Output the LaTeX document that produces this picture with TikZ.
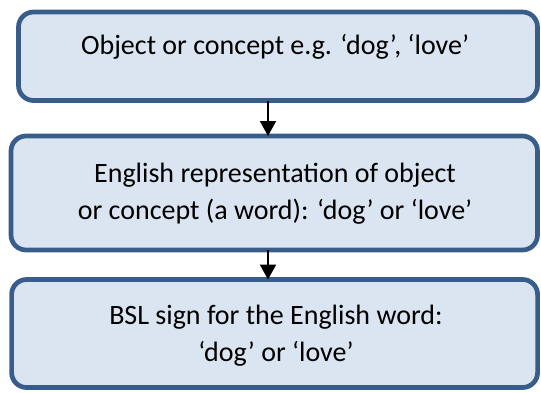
\documentclass[tikz,border=0pt]{standalone}
\usepackage{fontspec}
\setmainfont{Carlito}
\usetikzlibrary{arrows.meta}
\definecolor{boxline}{HTML}{385D8A}
\definecolor{boxfill}{HTML}{DBE5F1}
\begin{document}
\begin{tikzpicture}[x=1pt,y=-1pt,
  box/.style={draw=boxline, fill=boxfill, line width=4.7pt, rounded corners=15pt,
              inner sep=0pt, outer sep=0pt},
  label/.style={anchor=base, inner sep=0pt, font=\fontsize{28}{34}\selectfont},
  arr/.style={line width=2pt, -{Triangle[width=16pt,length=15pt]}}]
  \useasboundingbox (0,0) rectangle (541,392);
  % three stacked boxes
  \node[box, minimum width=519pt, minimum height=88.5pt] (b1) at (278,56.25) {};
  \node[box, minimum width=526.5pt, minimum height=114pt] (b2) at (274.25,193) {};
  \node[box, minimum width=526pt, minimum height=108pt] (b3) at (274.6,333.5) {};
  % texts
  \node[label] (t1) at (275,54) {Object or concept e.g. ‘dog’, ‘love’};
  \node[label] (t2a) at (275,182) {English representation of object};
  \node[label] (t2b) at (275,219) {or concept (a word): ‘dog’ or ‘love’};
  \node[label] (t3a) at (276,324) {BSL sign for the English word:};
  \node[label] (t3b) at (276,361) {‘dog’ or ‘love’};
  % connectors
  \coordinate (ax) at (268,0);
  \draw[arr] (b1.south -| ax) -- (b2.north -| ax);
  \draw[arr] (b2.south -| ax) -- (b3.north -| ax);
\end{tikzpicture}
\end{document}
